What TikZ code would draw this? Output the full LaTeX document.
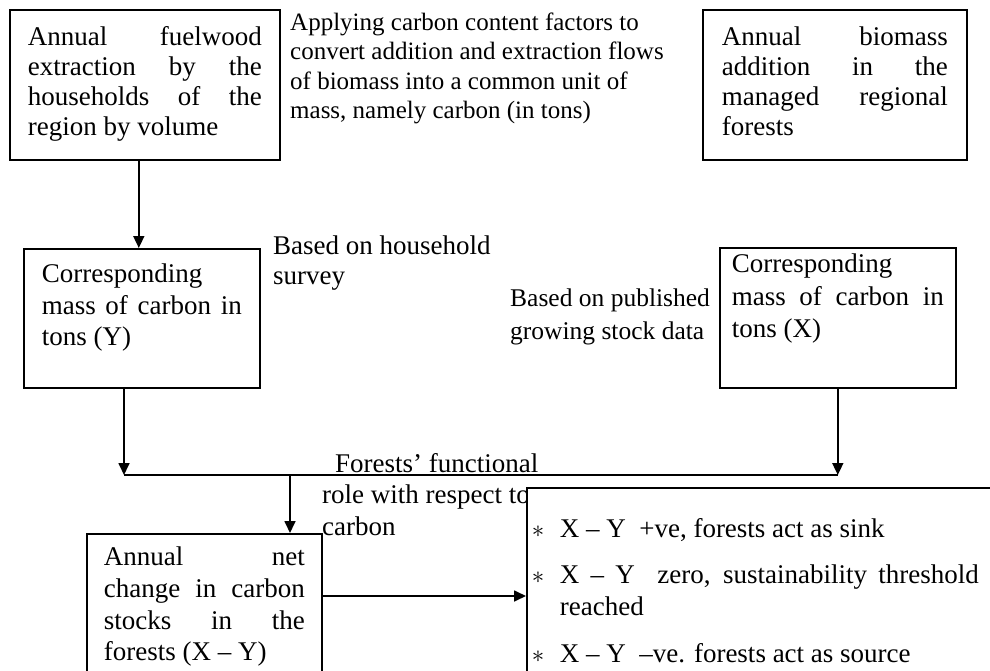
\documentclass[tikz,border=0pt]{standalone}
\usepackage{fontspec}
\setmainfont{Liberation Serif}
\usetikzlibrary{arrows.meta}

% box text: height, width, first baseline, text
\newcommand{\boxtext}[4]{\parbox[c][#1][t]{#2}{\rule{0pt}{#3}#4}}
\newcommand{\roleitem}[1]{\makebox[28pt][l]{$\ast$}\parbox[t]{419pt}{\strut#1\strut}\par}

\begin{document}
\begin{tikzpicture}[x=1pt, y=-1pt, >={Triangle[length=12pt, width=11pt]},
  every node/.style={font=\fontsize{27}{30}\selectfont},
  flowbox/.style={draw, line width=1.6pt, fill=white, inner sep=0pt, anchor=north west},
  note/.style={align=left, inner sep=0pt, anchor=north west, execute at begin node=\strut},
  link/.style={line width=1.7pt}]
  \useasboundingbox (0,0) rectangle (990,671);
  \clip (0,0) rectangle (990,671);
  % top row
  \node[flowbox, minimum width=270pt] (fuel) at (9,9)
    {\boxtext{150pt}{234pt}{36pt}{Annual fuelwood\linebreak extraction by the\linebreak households of the\linebreak region by volume}};
  \node[note, font=\fontsize{25}{29.5}\selectfont] (apply) at (290,12.4)
    {Applying carbon content factors to\\convert addition and extraction flows\\of biomass into a common unit of\\mass, namely carbon (in tons)};
  \node[flowbox, minimum width=264pt] (biomass) at (702,9)
    {\boxtext{150pt}{226pt}{36pt}{Annual biomass\linebreak addition in the\linebreak managed regional\linebreak forests}};
  % carbon masses
  \node[flowbox, minimum width=236pt, font=\fontsize{27}{31.5}\selectfont] (ycarb) at (23,248)
    {\boxtext{139pt}{200pt}{34pt}{Corresponding\\mass of carbon in\linebreak tons (Y)}};
  \node[note] (household) at (273,236) {Based on household\\survey};
  \node[note, font=\fontsize{25.5}{33}\selectfont] (published) at (510,289) {Based on published\\growing stock data};
  \node[flowbox, minimum width=236pt, font=\fontsize{27}{32.5}\selectfont] (xcarb) at (719,247)
    {\boxtext{140pt}{212pt}{25pt}{Corresponding\\mass of carbon in\linebreak tons (X)}};
  % bottom row
  \node[note, font=\fontsize{27}{31.5}\selectfont] (role) at (322,453)
    {\hspace*{13pt}Forests’ functional\\role with respect to\\carbon};
  \node[flowbox, minimum width=235pt, font=\fontsize{27}{31.7}\selectfont] (netbox) at (86,533)
    {\boxtext{167pt}{201pt}{32pt}{Annual net\linebreak change in carbon\linebreak stocks in the\linebreak forests (X – Y)}};
  \node[flowbox, minimum width=484pt, font=\fontsize{27}{32}\selectfont] (rolebox) at (526,487)
    {\boxtext{213pt}{474pt}{50pt}{\roleitem{X – Y\ \ +ve, forests act as sink}\vspace{14pt}%
      \roleitem{X – Y\ \ zero, sustainability threshold\linebreak reached}\vspace{14pt}%
      \roleitem{X – Y\ \ –ve. forests act as source}}};
  % connectors
  \coordinate (yjoin) at (124,475);
  \coordinate (xjoin) at (xcarb.south |- yjoin);
  \coordinate (netjoin) at (290,475);
  \draw[link, ->] ([xshift=-6pt]fuel.south) -- ([xshift=-6pt]fuel.south |- ycarb.north);
  \draw[link, ->] (ycarb.south -| yjoin) -- (yjoin);
  \draw[link, ->] (xcarb.south) -- (xjoin);
  \draw[link] (yjoin) -- (xjoin);
  \draw[link, ->] (netjoin) -- (netjoin |- netbox.north);
  \draw[link, ->] ([yshift=-63pt]netbox.north east) -- ([yshift=-63pt]netbox.north east -| rolebox.west);
\end{tikzpicture}
\end{document}
